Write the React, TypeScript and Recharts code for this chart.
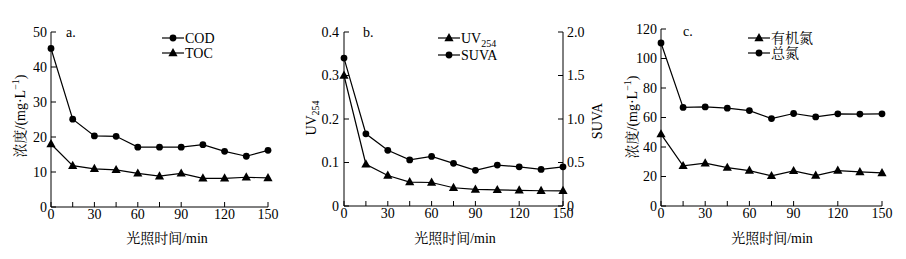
import React from "react";
import { LineChart, Line, XAxis, YAxis, Legend } from "recharts";

// time axis (min)
const times = [0, 15, 30, 45, 60, 75, 90, 105, 120, 135, 150];

// panel a: mg/L
const codValues = [45.3, 25.1, 20.3, 20.2, 17.1, 17.1, 17.1, 17.8, 15.9, 14.5, 16.2];
const tocValues = [18.0, 11.8, 10.9, 10.6, 9.6, 8.8, 9.6, 8.2, 8.2, 8.5, 8.3];

// panel b
const uv254Values = [0.3, 0.096, 0.07, 0.055, 0.054, 0.042, 0.038, 0.037, 0.036, 0.035, 0.035];
const suvaValues = [1.7, 0.83, 0.64, 0.53, 0.57, 0.49, 0.41, 0.47, 0.45, 0.42, 0.45];

// panel c: mg/L
const organicNValues = [48.7, 27.2, 29.0, 26.0, 24.0, 20.4, 23.8, 20.6, 24.0, 23.1, 22.4];
const totalNValues = [110.5, 66.8, 67.2, 66.3, 64.7, 59.3, 62.7, 60.4, 62.5, 62.3, 62.5];

// ticks
const timeTicks = [0, 15, 30, 45, 60, 75, 90, 105, 120, 135, 150];
const concTicksA = [0, 5, 10, 15, 20, 25, 30, 35, 40, 45, 50];
const uvTicks = [0, 0.05, 0.1, 0.15, 0.2, 0.25, 0.3, 0.35, 0.4];
const suvaTicks = [0, 0.25, 0.5, 0.75, 1, 1.25, 1.5, 1.75, 2];
const concTicksC = [0, 10, 20, 30, 40, 50, 60, 70, 80, 90, 100, 110, 120];

const xTitle = "光照时间/min";
const concTitle = "浓度/(mg·L";

const FONT = '"Liberation Serif", "Noto Serif CJK SC", "Noto Sans CJK SC", serif';
const FS = 14;
const txt = { fontFamily: FONT, fontSize: FS };

const dataA = times.map((t, i) => ({ t, cod: codValues[i], toc: tocValues[i] }));
const dataB = times.map((t, i) => ({ t, uv: uv254Values[i], suva: suvaValues[i] }));
const dataC = times.map((t, i) => ({ t, on: organicNValues[i], tn: totalNValues[i] }));

const Triangle = (props: any) => {
  const { cx, cy, index } = props;
  if (cx == null || cy == null) return <g key={`t-${index}`} />;
  return (
    <path
      key={`t-${index}`}
      d={`M${cx},${cy - 5}L${cx + 4.6},${cy + 3.2}L${cx - 4.6},${cy + 3.2}Z`}
      fill="#000"
    />
  );
};

const circleDot = { r: 3.4, fill: "#000", stroke: "#000", strokeWidth: 0 };

const makeTick =
  (isMajor: (v: number) => boolean, fmt: (v: number) => string, side: "bottom" | "left" | "right") =>
  (props: any) => {
    const { x, y, payload } = props;
    if (!isMajor(payload.value)) return <g />;
    const anchor = side === "bottom" ? "middle" : side === "left" ? "end" : "start";
    const dy = side === "bottom" ? "0.71em" : "0.35em";
    return (
      <text x={x} y={y} dy={dy} textAnchor={anchor} style={txt} fill="#000">
        {fmt(payload.value)}
      </text>
    );
  };

const timeTick = makeTick((v) => v % 30 === 0, (v) => String(v), "bottom");

const SeriesName = ({ name }: { name: string }) =>
  name === "UV254" ? (
    <>
      UV
      <tspan dy={4} fontSize={10}>
        254
      </tspan>
    </>
  ) : (
    <>{name}</>
  );

// legend rows follow the given dataKey order
const makeLegend = (order: string[], triangleKeys: string[], rowGap: number) => (props: any) => {
  const items = [...(props.payload || [])].sort(
    (a: any, b: any) => order.indexOf(a.dataKey) - order.indexOf(b.dataKey)
  );
  return (
    <svg width={110} height={40} style={{ overflow: "visible", display: "block" }}>
      {items.map((p: any, i: number) => {
        const y = 8 + i * rowGap;
        const tri = triangleKeys.includes(p.dataKey);
        return (
          <g key={p.value}>
            <line x1={2} x2={24} y1={y} y2={y} stroke="#000" strokeWidth={1.2} />
            {tri ? <Triangle cx={13} cy={y} index={i} /> : <circle cx={13} cy={y} r={3.4} fill="#000" />}
            <text x={25} y={y} dy="0.35em" style={txt} fill="#000">
              <SeriesName name={p.value} />
            </text>
          </g>
        );
      })}
    </svg>
  );
};

const ConcTitle = ({ x, y }: { x: number; y: number }) => (
  <text
    transform={`translate(${x},${y}) rotate(-90)`}
    textAnchor="middle"
    dominantBaseline="central"
    style={txt}
    fill="#000"
  >
    {concTitle}
    <tspan dy={-5} fontSize={10}>
      −1
    </tspan>
    <tspan dy={5}>)</tspan>
  </text>
);

const RotText = ({ x, y, children }: { x: number; y: number; children: React.ReactNode }) => (
  <text
    transform={`translate(${x},${y}) rotate(-90)`}
    textAnchor="middle"
    dominantBaseline="central"
    style={txt}
    fill="#000"
  >
    {children}
  </text>
);

const PlainText = ({ x, y, children }: { x: number; y: number; children: React.ReactNode }) => (
  <text x={x} y={y} textAnchor="middle" style={txt} fill="#000">
    {children}
  </text>
);

const axisProps = {
  axisLine: { stroke: "#000", strokeWidth: 1 },
  tickLine: { stroke: "#000", strokeWidth: 1 },
  tickSize: -5,
};

const lineProps = {
  stroke: "#000",
  strokeWidth: 1.2,
  isAnimationActive: false,
  type: "linear" as const,
};

export default function App() {
  return (
    <div
      style={{
        position: "absolute",
        left: 0,
        top: 0,
        width: 906,
        height: 259,
        background: "#fff",
        fontFamily: FONT,
      }}
    >
      {/* panel a */}
      <div style={{ position: "absolute", left: 0, top: 0 }}>
        <LineChart width={300} height={259} data={dataA} margin={{ top: 32, right: 32, bottom: 22, left: 21 }}>
          <XAxis
            dataKey="t"
            type="number"
            domain={[0, 150]}
            ticks={timeTicks}
            height={30}
            tickMargin={7}
            tick={timeTick}
            {...axisProps}
          />
          <YAxis
            type="number"
            domain={[0, 50]}
            ticks={concTicksA}
            width={30}
            tickMargin={9}
            tick={makeTick((v) => v % 10 === 0, (v) => String(v), "left")}
            {...axisProps}
          />
          <Line dataKey="cod" name="COD" dot={circleDot} {...lineProps} />
          <Line dataKey="toc" name="TOC" dot={Triangle} {...lineProps} />
          <Legend
            layout="vertical"
            align="center"
            verticalAlign="middle"
            wrapperStyle={{ left: 160, top: 30, width: 110 }}
            content={makeLegend(["cod", "toc"], ["toc"], 15)}
          />
          <text x={66} y={37} style={txt} fill="#000">
            a.
          </text>
          <ConcTitle x={20} y={116} />
          <PlainText x={167} y={243}>
            {xTitle}
          </PlainText>
        </LineChart>
      </div>

      {/* panel b */}
      <div style={{ position: "absolute", left: 295, top: 0 }}>
        <LineChart width={310} height={259} data={dataB} margin={{ top: 32, right: 12, bottom: 23, left: 19 }}>
          <XAxis
            dataKey="t"
            type="number"
            domain={[0, 150]}
            ticks={timeTicks}
            height={30}
            tickMargin={7}
            tick={timeTick}
            {...axisProps}
          />
          <YAxis
            yAxisId="left"
            type="number"
            domain={[0, 0.4]}
            ticks={uvTicks}
            width={30}
            tickMargin={10}
            tick={makeTick(
              (v) => Math.round(v * 100) % 10 === 0,
              (v) => (v === 0 ? "0" : v.toFixed(1)),
              "left"
            )}
            {...axisProps}
          />
          <YAxis
            yAxisId="right"
            orientation="right"
            type="number"
            domain={[0, 2]}
            ticks={suvaTicks}
            width={30}
            tickMargin={9}
            tick={makeTick(
              (v) => Math.round(v * 100) % 50 === 0,
              (v) => (v === 0 ? "0" : v.toFixed(1)),
              "right"
            )}
            {...axisProps}
          />
          <Line yAxisId="left" dataKey="uv" name="UV254" dot={Triangle} {...lineProps} />
          <Line yAxisId="right" dataKey="suva" name="SUVA" dot={circleDot} {...lineProps} />
          <Legend
            layout="vertical"
            align="center"
            verticalAlign="middle"
            wrapperStyle={{ left: 141, top: 30, width: 110 }}
            content={makeLegend(["uv", "suva"], ["uv"], 17)}
          />
          <text x={68} y={37} style={txt} fill="#000">
            b.
          </text>
          <RotText x={16} y={118}>
            UV
            <tspan dy={4} fontSize={10}>
              254
            </tspan>
          </RotText>
          <RotText x={302} y={121}>
            SUVA
          </RotText>
          <PlainText x={160} y={243}>
            {xTitle}
          </PlainText>
        </LineChart>
      </div>

      {/* panel c */}
      <div style={{ position: "absolute", left: 600, top: 0 }}>
        <LineChart width={306} height={259} data={dataC} margin={{ top: 29, right: 24, bottom: 23, left: 31 }}>
          <XAxis
            dataKey="t"
            type="number"
            domain={[0, 150]}
            ticks={timeTicks}
            height={30}
            tickMargin={7}
            tick={timeTick}
            {...axisProps}
          />
          <YAxis
            type="number"
            domain={[0, 120]}
            ticks={concTicksC}
            width={30}
            tickMargin={9}
            tick={makeTick((v) => v % 20 === 0, (v) => String(v), "left")}
            {...axisProps}
          />
          <Line dataKey="on" name="有机氮" dot={Triangle} {...lineProps} />
          <Line dataKey="tn" name="总氮" dot={circleDot} {...lineProps} />
          <Legend
            layout="vertical"
            align="center"
            verticalAlign="middle"
            wrapperStyle={{ left: 146, top: 30, width: 110 }}
            content={makeLegend(["on", "tn"], ["on"], 15)}
          />
          <text x={83} y={36} style={txt} fill="#000">
            c.
          </text>
          <ConcTitle x={32} y={117} />
          <PlainText x={172} y={243}>
            {xTitle}
          </PlainText>
        </LineChart>
      </div>
    </div>
  );
}
